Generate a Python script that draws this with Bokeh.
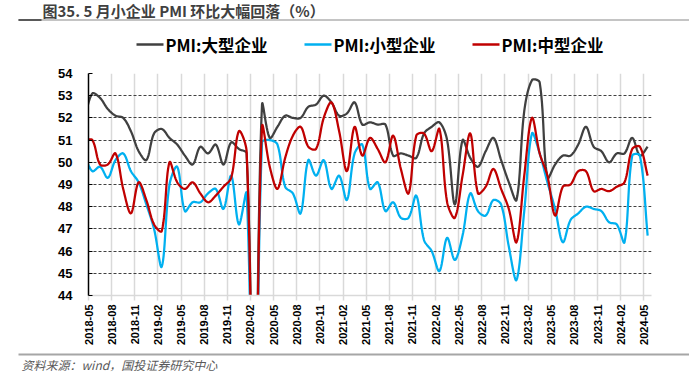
import numpy as np
import pandas as pd
from bokeh.plotting import figure
from bokeh.layouts import column
from bokeh.models import Range1d, FixedTicker, ColumnDataSource
from bokeh.core.properties import value
from bokeh.embed import file_html
from bokeh.resources import INLINE

# ---------------- data ----------------
months = [str(m) for m in pd.period_range("2018-04", "2024-05", freq="M")]
tick_labels = months[1::3]  # 2018-05 ... 2024-05

large = [52.0, 53.1, 52.9, 52.4, 52.1, 52.0, 51.4, 50.5, 50.1,
         51.3, 51.5, 51.1, 50.8, 50.3, 49.9, 50.7, 50.4, 50.8, 49.9, 50.9, 50.6,
         50.4, 36.3, 52.6, 51.1, 51.6, 52.1, 52.0, 52.0, 52.5, 52.6, 53.0, 52.7,
         52.1, 52.2, 52.7, 51.7, 51.8, 51.7, 51.7, 50.3, 50.4, 50.3, 50.2, 51.3,
         51.6, 51.8, 51.0, 48.1, 51.0, 50.2, 49.8, 50.5, 51.1, 50.1, 49.1, 48.3,
         52.3, 53.7, 53.6, 49.3, 49.9, 50.3, 50.3, 50.8, 51.6, 50.7, 50.5, 50.0,
         50.4, 50.4, 51.1, 50.3, 50.7]
small = [50.3, 49.6, 49.8, 49.3, 50.1, 50.4, 49.6, 49.1, 48.1,
         47.0, 45.3, 49.0, 49.8, 47.8, 48.2, 48.2, 48.6, 48.8, 47.9, 49.4, 47.2,
         48.6, 34.1, 50.9, 51.0, 50.8, 48.9, 48.6, 47.7, 50.1, 49.4, 50.1, 48.8,
         49.4, 48.3, 50.4, 50.8, 48.8, 49.1, 47.8, 48.2, 47.5, 47.5, 48.5, 46.5,
         46.0, 45.1, 46.6, 45.6, 46.7, 48.6, 47.8, 47.6, 48.3, 48.1, 46.2, 44.7,
         47.8, 51.3, 50.4, 49.1, 47.9, 46.4, 47.4, 47.7, 48.0, 47.9, 47.8, 47.3,
         47.2, 46.4, 50.3, 50.3, 46.7]
medium = [51.0, 51.0, 49.9, 49.9, 50.4, 48.8, 47.7, 49.1, 48.3,
          47.2, 46.9, 50.0, 49.1, 48.8, 49.1, 48.6, 48.2, 48.5, 48.9, 49.3, 51.4,
          50.5, 35.5, 51.6, 49.8, 48.8, 50.2, 51.2, 51.6, 50.7, 50.6, 52.0, 52.7,
          51.4, 49.6, 51.6, 50.3, 51.1, 50.6, 50.0, 51.2, 49.7, 48.6, 51.2, 51.3,
          50.5, 51.5, 48.2, 47.5, 49.4, 51.3, 48.6, 48.9, 49.7, 48.8, 47.9, 46.4,
          49.4, 52.0, 50.4, 49.4, 47.6, 48.9, 49.0, 49.6, 49.6, 48.7, 48.8, 48.7,
          48.9, 49.1, 50.6, 50.7, 49.4]

series_names = ["PMI:大型企业", "PMI:小型企业", "PMI:中型企业"]
series_values = [large, small, medium]
series_colors = ["#404040", "#00B0F0", "#C00000"]

title_text = "图35. 5 月小企业 PMI 环比大幅回落（%）"
source_text = "资料来源：wind，国投证券研究中心"

CJK = "Noto Sans CJK SC"
LAT = "Liberation Sans"

# ---------------- geometry ----------------
W = 689
X0, X1 = 0, 73
Y0, Y1 = 44, 54
FRAME_W, FRAME_H = 563, 222
SX = FRAME_W / (X1 - X0)
SY = FRAME_H / (Y1 - Y0)

xpos = np.arange(len(months)) - 0.5  # month centred between month-start ticks


def smooth(xs, ys, n=14):
    """Excel-like smoothed line (chord-scaled Catmull-Rom bezier)."""
    P = np.column_stack([np.asarray(xs) * SX, np.asarray(ys) * SY])
    N = len(P)
    outx, outy = [], []
    for k in range(N - 1):
        p0 = P[k - 1] if k > 0 else P[k]
        p1, p2 = P[k], P[k + 1]
        p3 = P[k + 2] if k + 2 < N else P[k + 1]
        d01 = np.hypot(*(p1 - p0)); d12 = np.hypot(*(p2 - p1)); d23 = np.hypot(*(p3 - p2))
        f1 = d12 / (3 * (d01 + d12)) if d01 + d12 > 0 else 0
        f2 = d12 / (3 * (d12 + d23)) if d12 + d23 > 0 else 0
        c1 = p1 + (p2 - p0) * f1
        c2 = p2 - (p3 - p1) * f2
        t = np.linspace(0, 1, n, endpoint=(k == N - 2))[:, None]
        b = ((1 - t) ** 3) * p1 + 3 * ((1 - t) ** 2) * t * c1 + 3 * (1 - t) * t ** 2 * c2 + t ** 3 * p2
        outx.extend(b[:, 0] / SX); outy.extend(b[:, 1] / SY)
    return outx, outy


def blank_fig(height):
    fig = figure(width=W, height=height, x_range=Range1d(0, W), y_range=Range1d(height, 0),
                 x_axis_type=None, y_axis_type=None,
                 min_border=0, min_border_left=0, min_border_right=0,
                 min_border_top=0, min_border_bottom=0,
                 output_backend="svg", toolbar_location=None)
    fig.outline_line_color = None
    fig.frame_align = False
    return fig


# ---------------- header ----------------
h = blank_fig(61)
h.text(x=[42], y=[10], text=[title_text], text_font=value(CJK), text_font_size="15px",
       text_font_style="bold", text_color="#404040", text_baseline="middle")
h.segment(x0=[18], y0=[19.5], x1=[W], y1=[19.5], line_color="#b0b0b0", line_width=1.5)
h.segment(x0=[18], y0=[19.5], x1=[41], y1=[19.5], line_color="#595959", line_width=2)

leg_x = [136, 304, 472]
for lx, name, col in zip(leg_x, series_names, series_colors):
    h.segment(x0=[lx], y0=[44], x1=[lx + 27], y1=[44], line_color=col, line_width=2.5)
    h.text(x=[lx + 29], y=[44], text=[name], text_font=value(CJK), text_font_size="16.5px",
           text_font_style="bold", text_color="#000000", text_baseline="middle")

# ---------------- main plot ----------------
p = figure(width=W, height=288, x_range=Range1d(X0, X1), y_range=Range1d(Y0, Y1),
           output_backend="svg", toolbar_location=None,
           min_border_left=88, min_border_right=38, min_border_top=12, min_border_bottom=54)
p.outline_line_color = None
p.frame_align = False

xt = list(range(0, 73, 3))
p.xaxis.ticker = FixedTicker(ticks=xt)
p.xaxis.major_label_overrides = {t: lab for t, lab in zip(xt, tick_labels)}
p.xaxis.major_label_orientation = np.pi / 2
p.xaxis.major_label_text_font = LAT
p.xaxis.major_label_text_font_size = "11px"
p.xaxis.major_label_text_font_style = "bold"
p.xaxis.major_label_text_color = "#000000"
p.xaxis.major_label_standoff = 4
p.xaxis.axis_line_color = "#d9d9d9"
p.xaxis.axis_line_width = 1.5
p.xaxis.major_tick_line_color = "#d9d9d9"
p.xaxis.major_tick_line_width = 1.5
p.xaxis.major_tick_in = 0
p.xaxis.major_tick_out = 5
p.xaxis.minor_tick_line_color = None

p.yaxis.ticker = FixedTicker(ticks=list(range(44, 55)))
p.yaxis.major_label_text_font = LAT
p.yaxis.major_label_text_font_size = "13px"
p.yaxis.major_label_text_font_style = "bold"
p.yaxis.major_label_text_color = "#000000"
p.yaxis.major_label_standoff = 16
p.yaxis.axis_line_color = "#000000"
p.yaxis.axis_line_width = 1.5
p.yaxis.major_tick_line_color = "#000000"
p.yaxis.major_tick_in = 4
p.yaxis.major_tick_out = 0
p.yaxis.minor_tick_line_color = None

p.xgrid.grid_line_color = "#d9d9d9"
p.xgrid.grid_line_width = 1.5
p.ygrid.grid_line_color = "#404040"
p.ygrid.grid_line_width = 1
p.ygrid.grid_line_dash = "3 2"

for name, vals, col in zip(series_names, series_values, series_colors):
    sx, sy = smooth(xpos, vals)
    src = ColumnDataSource(dict(x=sx, y=sy))
    p.line("x", "y", source=src, line_color=col, line_width=2.25, line_join="round")

# ---------------- footer ----------------
f = blank_fig(25)
f.segment(x0=[18], y0=[5], x1=[W], y1=[5], line_color="#a6a6a6", line_width=2)
f.text(x=[21], y=[15], text=[source_text], text_font=value(CJK), text_font_size="12px",
       text_font_style="italic", text_color="#595959", text_baseline="middle")

layout = column(h, p, f, spacing=0)
open("out.html", "w").write(file_html(layout, INLINE))
